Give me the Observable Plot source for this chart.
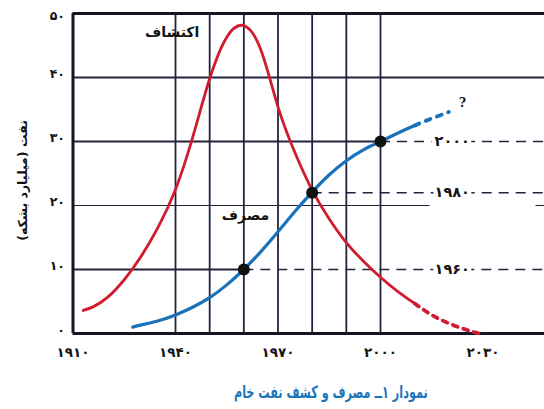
<!DOCTYPE html>
<html>
<head>
<meta charset="utf-8">
<script src="https://cdn.jsdelivr.net/npm/d3@7"></script>
<script src="https://cdn.jsdelivr.net/npm/@observablehq/plot@0.6"></script>
<style>
  body { margin: 0; background: white; }
  #caption { width: 544px; box-sizing: border-box; padding-left: 118px; text-align: center;
    font-family: "DejaVu Sans", sans-serif; font-weight: bold; font-size: 17px; color: #1b75bb; line-height: 40px; margin-top: 2px; }
  #caption span { display: inline-block; direction: rtl; transform: scaleX(0.66); transform-origin: center; }
</style>
</head>
<body>
<div id="chart"></div>
<div id="caption"><span>نمودار ۱ــ مصرف و کشف نفت خام</span></div>
<script>
// ---- data ----
const xTicks = [1910, 1940, 1970, 2000, 2030];
const yTicks = [0, 10, 20, 30, 40, 50];
const gridYears = [1940, 1950, 1960, 1970, 1980, 1990, 2000];

// discovery (اکتشاف) – solid part
const discYears  = [1913, 1916, 1920, 1925, 1930, 1935, 1940, 1945, 1950, 1955, 1960, 1965, 1970, 1975, 1980, 1985, 1990, 1995, 2000, 2005, 2010];
const discValues = [3.6, 4.2, 5.6, 8.4, 12.1, 16.7, 22.5, 30.6, 39.8, 46.3, 48.1, 44.3, 35.4, 28.2, 22.4, 17.9, 14.2, 11.3, 8.8, 6.6, 4.7];
// discovery – projected (dotted)
const discProjYears  = [2010, 2015, 2020, 2025, 2029];
const discProjValues = [4.7, 2.9, 1.6, 0.6, 0];

// consumption (مصرف) – solid part
const consYears  = [1927.5, 1930, 1935, 1940, 1945, 1950, 1955, 1960, 1965, 1970, 1975, 1980, 1985, 1990, 1995, 2000, 2005, 2010];
const consValues = [1.0, 1.35, 2.0, 2.9, 4.1, 5.6, 7.6, 10, 12.8, 15.9, 19.1, 22.1, 24.8, 27.0, 28.7, 30, 31.3, 32.5];
// consumption – projected (dotted)
const consProjYears  = [2010, 2015, 2020];
const consProjValues = [32.5, 33.6, 34.6];

// marked points (year, consumption)
const markYears  = [1960, 1980, 2000];
const markValues = [10, 22, 30];

const curveLabels = [
  {text: "اکتشاف", year: 1939, value: 47},
  {text: "مصرف", year: 1960.5, value: 18.4}
];
const yTitle = "نفت (میلیارد بشکه)";

// ---- helpers ----
const faDigits = "۰۱۲۳۴۵۶۷۸۹";
const fa = d => String(d).replace(/\d/g, c => faDigits[c]);
const zip = (xs, ys) => xs.map((x, i) => ({x, y: ys[i]}));

const disc = zip(discYears, discValues);
const discProj = zip(discProjYears, discProjValues);
const cons = zip(consYears, consValues);
const consProj = zip(consProjYears, consProjValues);
const marks = zip(markYears, markValues);

const X0 = 1910, X1 = 2048;
const ink = "#23233f";
const red = "#d01c2e";
const blue = "#1a72ba";

const chart = Plot.plot({
  width: 544,
  height: 370,
  marginLeft: 72.5,
  marginRight: 0,
  marginTop: 13,
  marginBottom: 37,
  x: {domain: [X0, X1], label: null},
  y: {domain: [0, 50], label: null},
  style: {fontFamily: "DejaVu Sans, sans-serif", fontSize: "13px", fontWeight: "bold", background: "white", color: "#151515"},
  marks: [
    // grid
    Plot.ruleX(gridYears, {y1: 0, y2: 50, stroke: ink, strokeWidth: 1.8}),
    Plot.ruleY([40], {x1: X0, x2: X1, stroke: ink, strokeWidth: 1.8}),
    Plot.ruleY([30], {x1: X0, x2: 2000, stroke: ink, strokeWidth: 1.8}),
    Plot.ruleY([20], {x1: X0, x2: 2014.5, stroke: ink, strokeWidth: 1.1}),
    Plot.ruleY([20], {x1: 2045.5, x2: X1, stroke: ink, strokeWidth: 1.1}),
    Plot.ruleY([10], {x1: X0, x2: 1960, stroke: ink, strokeWidth: 1.8}),
    // dashed guides from the marked points
    Plot.ruleY(marks, {y: "y", x1: "x", x2: X1, stroke: ink, strokeWidth: 1.5, strokeDasharray: "10,7"}),
    Plot.text(marks, {x: 2021, y: "y", text: d => fa(d.x), stroke: "white", strokeWidth: 9, fill: "#151515", fontSize: 14.5, fontWeight: "bold"}),
    // frame
    Plot.ruleX([X0], {y1: 0, y2: 50, stroke: "#151525", strokeWidth: 3}),
    Plot.ruleY([0, 50], {x1: X0, x2: X1, stroke: "#151525", strokeWidth: 3}),
    // curves
    Plot.line(disc, {x: "x", y: "y", stroke: red, strokeWidth: 2.8, curve: "natural"}),
    Plot.line(discProj, {x: "x", y: "y", stroke: red, strokeWidth: 3.8, strokeDasharray: "5,6", curve: "natural"}),
    Plot.line(cons, {x: "x", y: "y", stroke: blue, strokeWidth: 3.2, curve: "natural"}),
    Plot.line(consProj, {x: "x", y: "y", stroke: blue, strokeWidth: 3.8, strokeDasharray: "5,7", curve: "natural"}),
    Plot.dot(marks, {x: "x", y: "y", r: 6, fill: "#111", stroke: "none"}),
    // curve labels
    Plot.text(curveLabels, {x: "year", y: "value", text: "text", fontSize: 14, fontWeight: "bold", fill: "#111"}),
    Plot.text(["?"], {x: 2024, y: 36, text: d => d, fontSize: 12, fontWeight: "bold", fontFamily: "DejaVu Serif, serif", fill: "#111"}),
    // axes
    Plot.axisX(xTicks, {tickSize: 0, tickPadding: 14, tickFormat: fa, fontSize: 13.5, fontWeight: "bold"}),
    Plot.axisY(yTicks.filter(d => d < 50), {tickSize: 0, tickPadding: 8, dy: -4, tickFormat: fa, fontSize: 12.5, fontWeight: "bold"}),
    Plot.axisY(yTicks.filter(d => d === 50), {tickSize: 0, tickPadding: 8, dy: 2, tickFormat: fa, fontSize: 12.5, fontWeight: "bold"}),
    Plot.text([yTitle], {frameAnchor: "left", textAnchor: "middle", dx: -50, dy: 7, rotate: -90, text: d => d, fontSize: 12.5, fontWeight: "bold", fill: "#111"})
  ]
});
document.getElementById("chart").appendChild(chart);
</script>
</body>
</html>
